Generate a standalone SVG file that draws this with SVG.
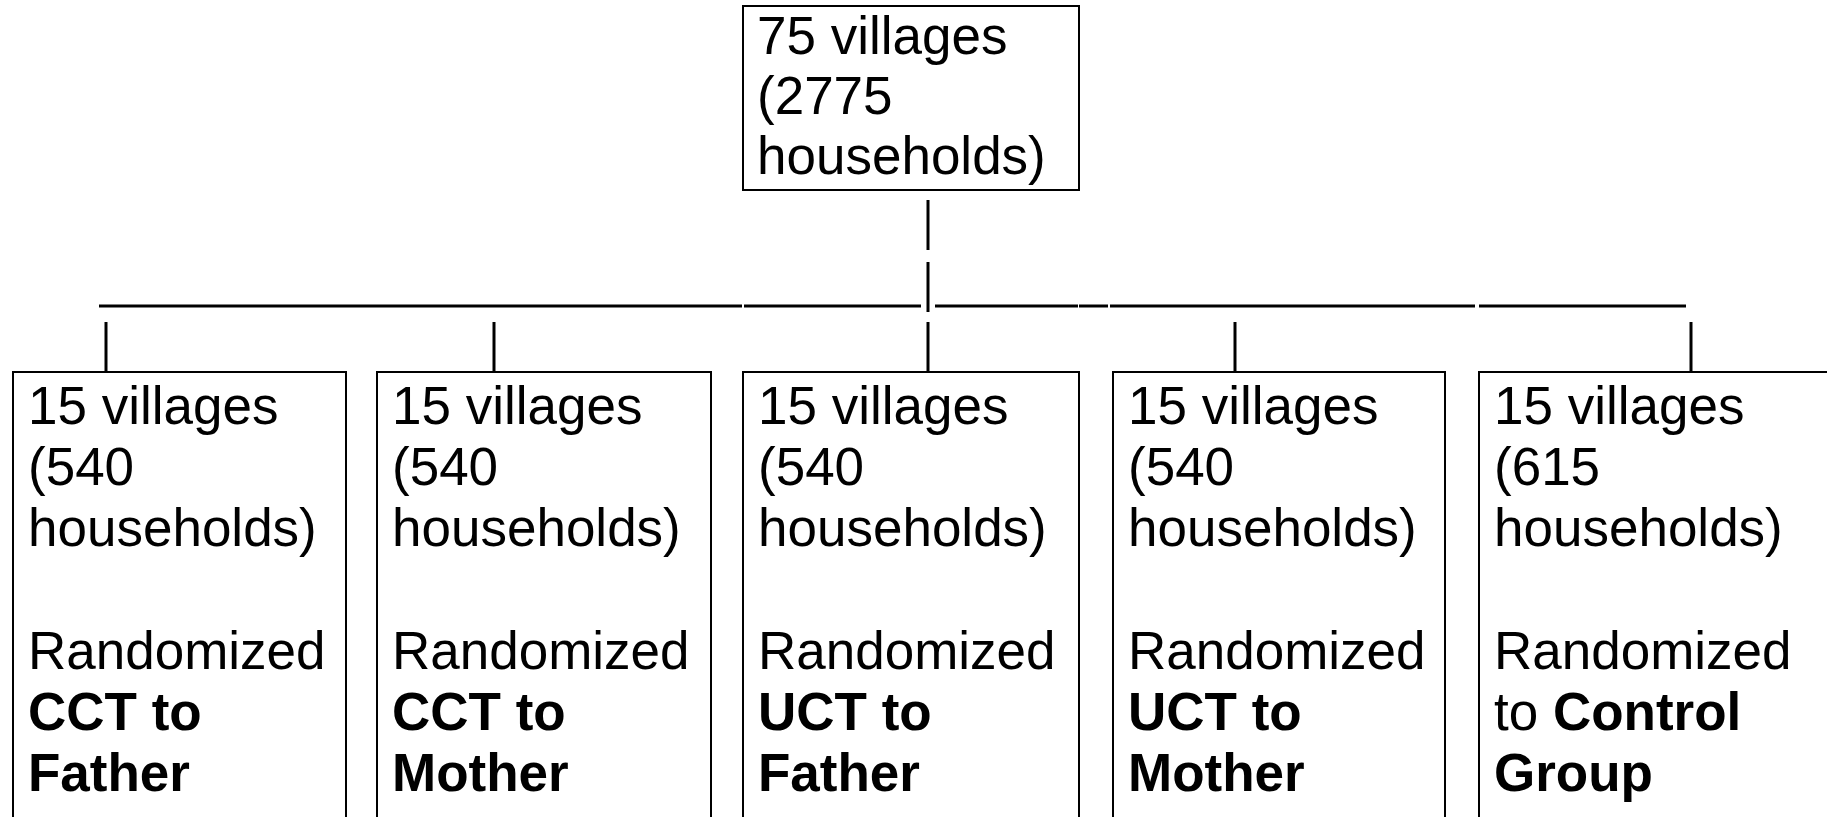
<svg xmlns="http://www.w3.org/2000/svg" width="1827" height="817" viewBox="0 0 1827 817">
  <style>
    .box { fill: #ffffff; stroke: #000000; stroke-width: 2; }
    .conn { stroke: #000000; stroke-width: 3; fill: none; }
    .t { font-family: "Liberation Sans", Arial, sans-serif; font-size: 53px; fill: #000000; }
    .b { font-weight: bold; }
  </style>
  <rect width="1827" height="817" fill="#ffffff"/>
  <g id="connectors">
    <line class="conn" x1="928" y1="200" x2="928" y2="250"/>
    <line class="conn" x1="928" y1="262" x2="928" y2="312"/>
    <line class="conn" x1="928" y1="322" x2="928" y2="372"/>
    <line class="conn" x1="99" y1="306" x2="742" y2="306"/>
    <line class="conn" x1="744" y1="306" x2="921" y2="306"/>
    <line class="conn" x1="935" y1="306" x2="1078" y2="306"/>
    <line class="conn" x1="1079" y1="306" x2="1108" y2="306"/>
    <line class="conn" x1="1110" y1="306" x2="1475" y2="306"/>
    <line class="conn" x1="1479" y1="306" x2="1686" y2="306"/>
    <line class="conn" x1="106" y1="322" x2="106" y2="372"/>
    <line class="conn" x1="494" y1="322" x2="494" y2="372"/>
    <line class="conn" x1="1235" y1="322" x2="1235" y2="372"/>
    <line class="conn" x1="1691" y1="322" x2="1691" y2="372"/>
  </g>
  <g id="root">
    <rect class="box" x="743" y="6" width="336" height="184"/>
    <text class="t" x="757" y="54">75 villages</text>
    <text class="t" x="757" y="114">(2775</text>
    <text class="t" x="757" y="174">households)</text>
  </g>
  <g id="cct-father">
    <rect class="box" x="13" y="372" width="333" height="470"/>
    <text class="t" x="28" y="424">15 villages</text>
    <text class="t" x="28" y="485">(540</text>
    <text class="t" x="28" y="546">households)</text>
    <text class="t" x="28" y="669">Randomized</text>
    <text class="t b" x="28" y="730">CCT to</text>
    <text class="t b" x="28" y="791">Father</text>
  </g>
  <g id="cct-mother">
    <rect class="box" x="377" y="372" width="334" height="470"/>
    <text class="t" x="392" y="424">15 villages</text>
    <text class="t" x="392" y="485">(540</text>
    <text class="t" x="392" y="546">households)</text>
    <text class="t" x="392" y="669">Randomized</text>
    <text class="t b" x="392" y="730">CCT to</text>
    <text class="t b" x="392" y="791">Mother</text>
  </g>
  <g id="uct-father">
    <rect class="box" x="743" y="372" width="336" height="470"/>
    <text class="t" x="758" y="424">15 villages</text>
    <text class="t" x="758" y="485">(540</text>
    <text class="t" x="758" y="546">households)</text>
    <text class="t" x="758" y="669">Randomized</text>
    <text class="t b" x="758" y="730">UCT to</text>
    <text class="t b" x="758" y="791">Father</text>
  </g>
  <g id="uct-mother">
    <rect class="box" x="1113" y="372" width="332" height="470"/>
    <text class="t" x="1128" y="424">15 villages</text>
    <text class="t" x="1128" y="485">(540</text>
    <text class="t" x="1128" y="546">households)</text>
    <text class="t" x="1128" y="669">Randomized</text>
    <text class="t b" x="1128" y="730">UCT to</text>
    <text class="t b" x="1128" y="791">Mother</text>
  </g>
  <g id="control">
    <rect class="box" x="1479" y="372" width="400" height="470"/>
    <text class="t" x="1494" y="424">15 villages</text>
    <text class="t" x="1494" y="485">(615</text>
    <text class="t" x="1494" y="546">households)</text>
    <text class="t" x="1494" y="669">Randomized</text>
    <text class="t" x="1494" y="730">to <tspan class="b">Control</tspan></text>
    <text class="t b" x="1494" y="791">Group</text>
  </g>
</svg>
